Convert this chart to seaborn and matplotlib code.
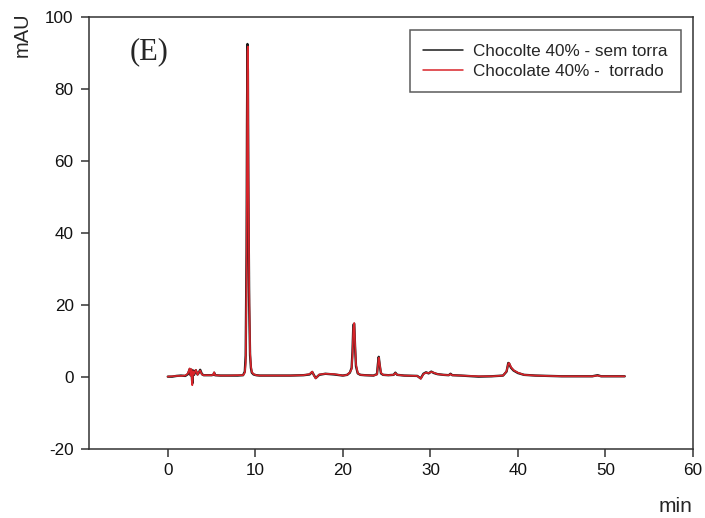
import matplotlib
matplotlib.use("Agg")
import matplotlib.pyplot as plt
import seaborn as sns
import pandas as pd

# ---- data ----
time_min = [0, 0.5, 1.0, 1.5, 2.0, 2.3, 2.5, 2.6, 2.7, 2.8, 2.9, 3.0, 3.2, 3.4, 3.5, 3.7, 3.9, 4.1,
            4.5, 5.0, 5.2, 5.3, 5.4, 6.0, 7.0, 8.0, 8.6, 8.8, 8.9, 9.0, 9.05, 9.1, 9.15, 9.2, 9.3,
            9.4, 9.5, 9.6, 9.8, 10.1, 10.5, 12, 14, 15.5, 16.2, 16.5, 16.7, 16.9, 17.3, 18, 19, 20,
            20.5, 20.8, 21.0, 21.1, 21.2, 21.3, 21.4, 21.5, 21.7, 22.0, 22.5, 23.5, 23.9, 24.0,
            24.1, 24.2, 24.35, 24.6, 25.2, 25.8, 26.0, 26.2, 27, 28.5, 28.9, 29.2, 29.5, 29.8,
            30.1, 30.4, 30.8, 31.5, 32.1, 32.3, 32.5, 33.5, 35.5, 37, 38.3, 38.7, 38.9, 39.0,
            39.2, 39.5, 40.0, 40.7, 42, 45, 48.5, 49.1, 49.5, 51, 52.2]

sem_torra = [0.1, 0.1, 0.3, 0.4, 0.3, 0.8, 2.2, 0.5, 2.0, -1.8, 1.8, 0.6, 1.9, 0.7, 1.0, 2.0, 0.8, 0.5,
             0.5, 0.5, 0.6, 1.2, 0.5, 0.4, 0.4, 0.4, 0.5, 1.5, 6, 35, 70, 92.5, 85, 55, 20,
             6, 2.5, 1.2, 0.7, 0.5, 0.4, 0.4, 0.4, 0.5, 0.7, 1.4, 0.5, -0.3, 0.6, 0.9, 0.7, 0.4,
             0.6, 1.2, 2.5, 7, 14.5, 14.8, 8, 3, 1.0, 0.6, 0.5, 0.4, 0.8, 3.5,
             5.6, 3.5, 1.0, 0.6, 0.5, 0.6, 1.2, 0.6, 0.4, 0.3, -0.4, 0.9, 1.3, 1.0,
             1.5, 1.1, 0.8, 0.6, 0.5, 0.9, 0.5, 0.4, 0.1, 0.2, 0.4, 1.5, 3.9, 3.7,
             2.6, 1.8, 1.1, 0.6, 0.4, 0.2, 0.2, 0.5, 0.2, 0.2, 0.2]

torrado = [0.1, 0.2, 0.3, 0.3, 0.4, 1.0, 2.4, 0.4, 2.2, -2.3, 1.6, 0.8, 2.0, 0.6, 1.2, 1.8, 0.7, 0.5,
           0.5, 0.5, 0.6, 1.3, 0.5, 0.4, 0.4, 0.5, 0.5, 1.2, 4, 28, 62, 90.5, 91.8, 60, 24,
           7, 3, 1.4, 0.8, 0.5, 0.4, 0.4, 0.4, 0.5, 0.8, 1.5, 0.4, -0.4, 0.7, 0.9, 0.8, 0.4,
           0.6, 1.3, 2.2, 6, 13.5, 15.0, 9, 3.5, 1.1, 0.6, 0.5, 0.4, 0.7, 3.0,
           5.4, 3.8, 1.2, 0.6, 0.5, 0.6, 1.1, 0.6, 0.4, 0.3, -0.5, 0.8, 1.2, 1.1,
           1.4, 1.2, 0.8, 0.6, 0.5, 0.8, 0.5, 0.4, 0.2, 0.2, 0.4, 1.6, 3.7, 3.9,
           2.8, 1.9, 1.2, 0.6, 0.4, 0.2, 0.2, 0.4, 0.2, 0.2, 0.2]

series_names = ["Chocolte 40% - sem torra", "Chocolate 40% -  torrado"]
series_colors = ["#1a1a1a", "#d8242a"]

df = pd.concat([
    pd.DataFrame({"min": time_min, "mAU": sem_torra, "serie": series_names[0]}),
    pd.DataFrame({"min": time_min, "mAU": torrado, "serie": series_names[1]}),
], ignore_index=True)

sns.set_style("white")
plt.rcParams["font.family"] = ["Liberation Sans", "DejaVu Sans"]
plt.rcParams["axes.unicode_minus"] = False

fig = plt.figure(figsize=(7.05, 5.18), dpi=100)
ax = fig.add_axes([89 / 705, 1 - 449 / 518, (693 - 89) / 705, (449 - 17) / 518])

sns.lineplot(data=df, x="min", y="mAU", hue="serie", hue_order=series_names,
             palette=dict(zip(series_names, series_colors)), sort=False, estimator=None,
             linewidth=1.2, ax=ax)
ax.lines[0].set_linewidth(1.7)

ax.set_xlim(-9, 60)
ax.set_ylim(-20, 100)
ax.set_xticks([0, 10, 20, 30, 40, 50, 60])
ax.set_yticks([-20, 0, 20, 40, 60, 80, 100])
ax.tick_params(axis="both", which="major", direction="out", length=6, width=1.1,
               color="#333333", labelsize=12.3, labelcolor="#111111", bottom=True, left=True)
ax.tick_params(axis="x", pad=4)
ax.tick_params(axis="y", pad=5)
for s in ax.spines.values():
    s.set_color("#333333")
    s.set_linewidth(1.1)
    s.set_visible(True)

ax.set_xlabel("")
ax.set_ylabel("")
fig.text(22 / 705, 1 - 35 / 518, "mAU", rotation=90, ha="center", va="center", fontsize=14.5)
fig.text(675 / 705, 1 - 507 / 518, "min", ha="center", va="center", fontsize=15)
ax.text(149 / 705, 1 - 52 / 518, "(E)", transform=fig.transFigure, ha="center", va="center",
        fontsize=22, family=["Liberation Serif", "DejaVu Serif"])

handles, labels = ax.get_legend_handles_labels()
leg = ax.legend(handles, labels, loc="upper right", bbox_to_anchor=(681 / 705, 1 - 30 / 518),
                bbox_transform=fig.transFigure, borderaxespad=0, fontsize=12.3, frameon=True,
                fancybox=False, handlelength=2.3, handletextpad=0.6, borderpad=0.8,
                labelspacing=0.3)
leg.get_frame().set_edgecolor("#333333")
leg.get_frame().set_linewidth(1.1)
for ln in leg.get_lines():
    ln.set_linewidth(1.1)

fig.savefig("out.png", dpi=100)
